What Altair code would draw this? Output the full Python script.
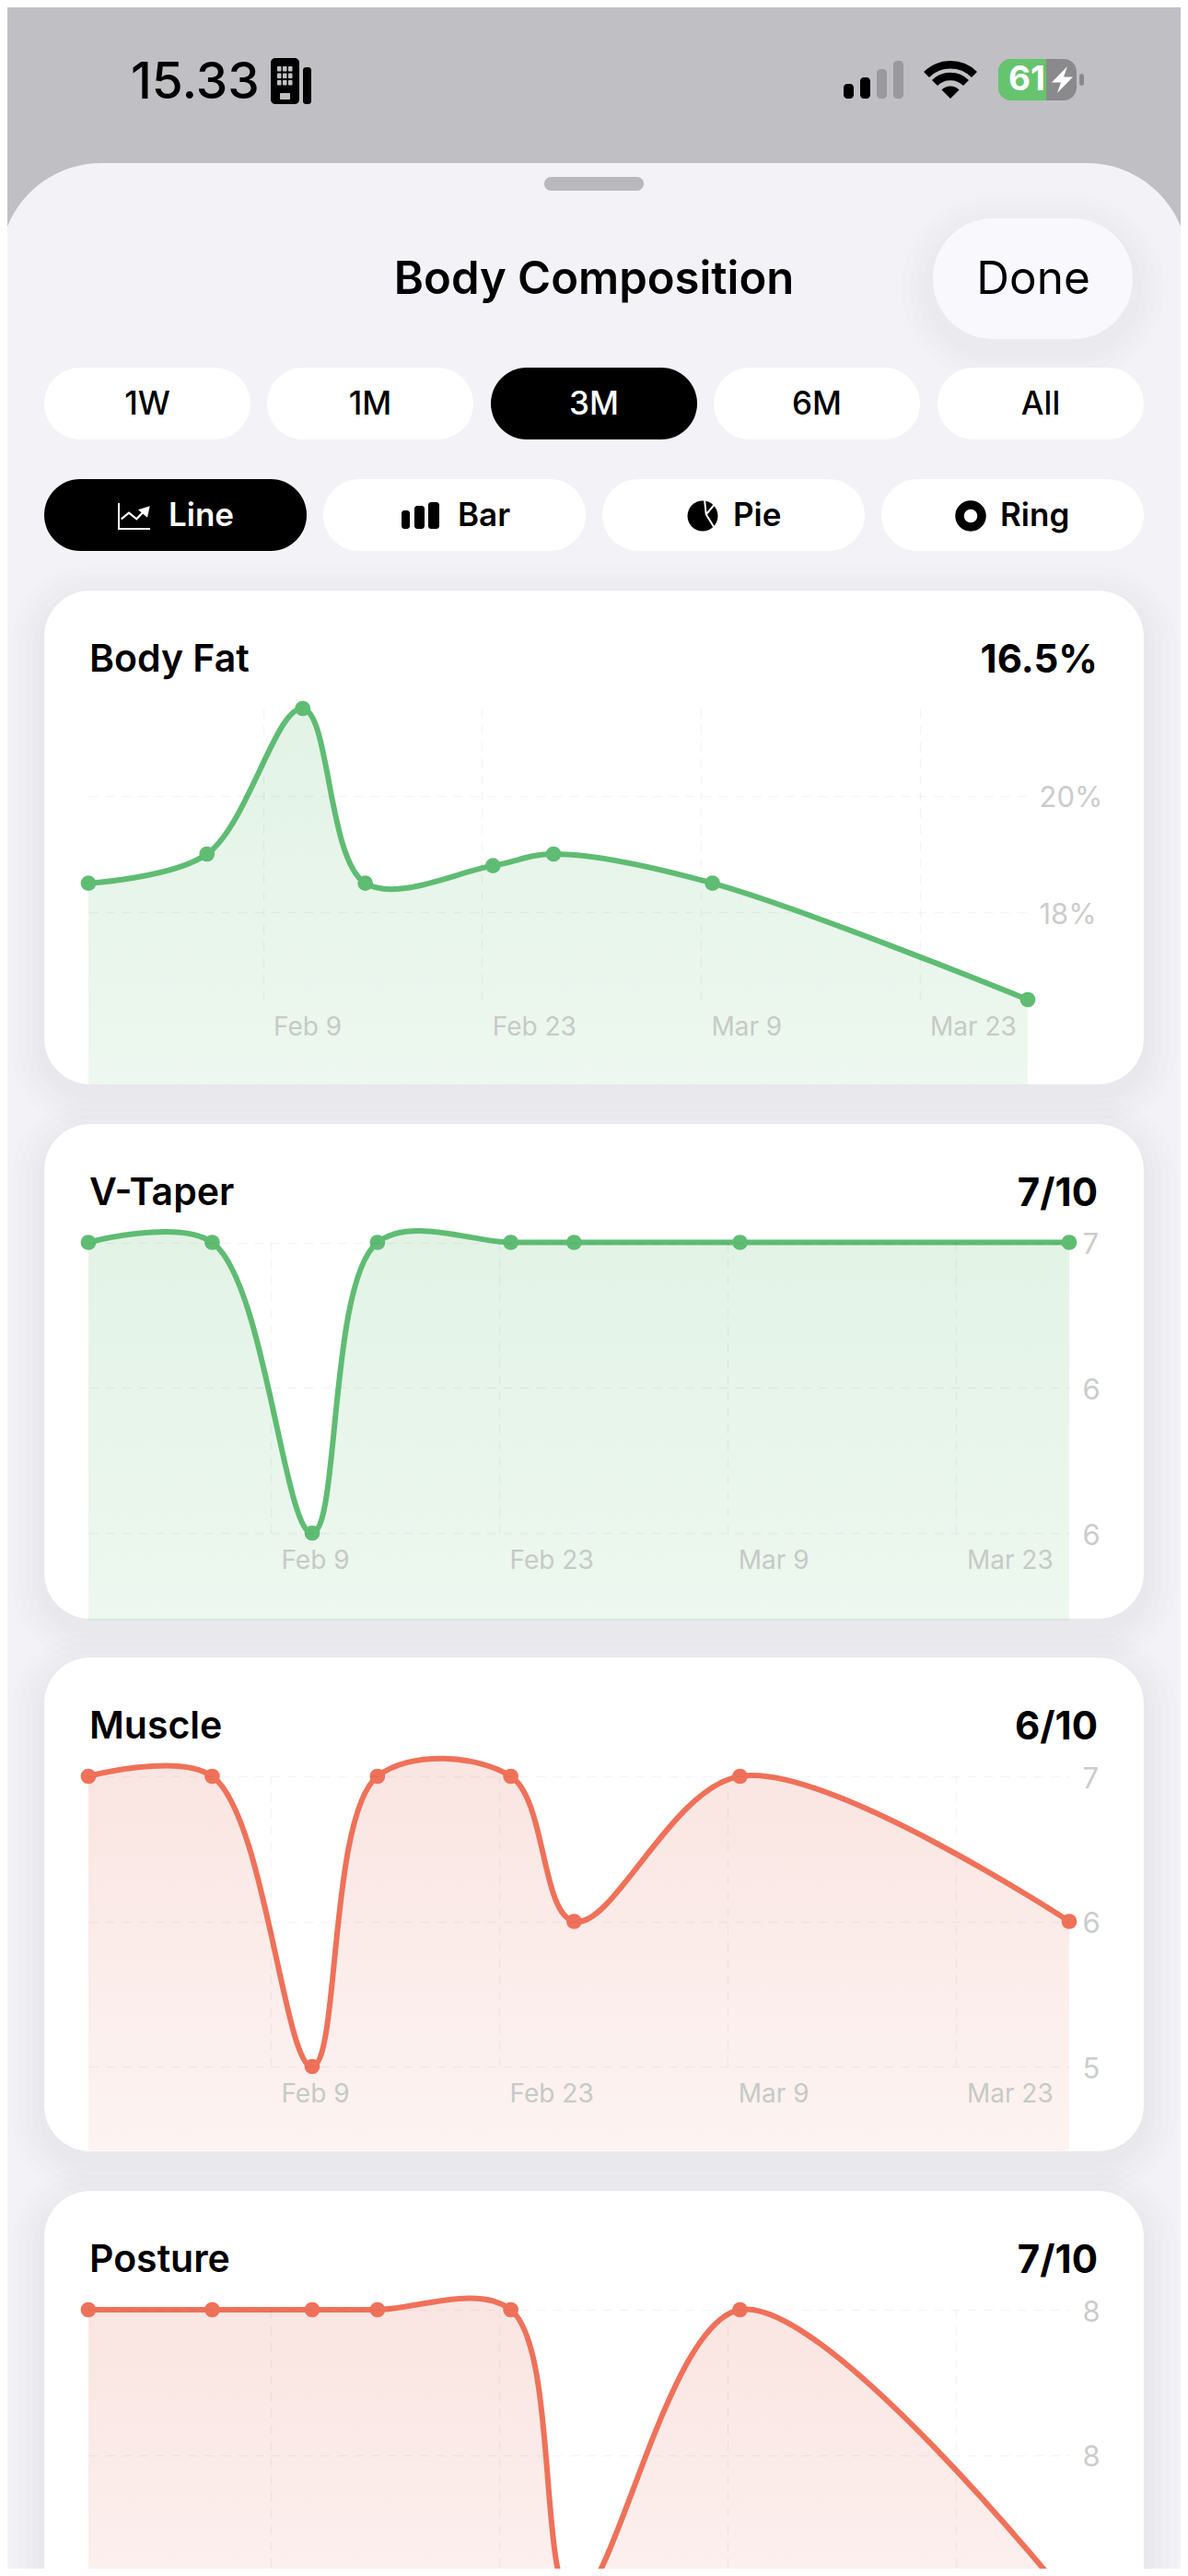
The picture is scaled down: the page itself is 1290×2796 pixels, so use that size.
import altair as alt
import pandas as pd

FONT = "Inter"
OFF = 8  # the page margin, everything below is measured on the screenshot

dates = ["2025-01-28T20:00:00", "2025-02-05T10:00:00", "2025-02-11T13:00:00", "2025-02-15T13:00:00",
         "2025-02-23T17:00:00", "2025-02-27T14:00:00", "2025-03-09T18:00:00", "2025-03-29T22:00:00"]
body_fat = [18.5, 19, 21.5, 18.5, 18.8, 19, 18.5, 16.5]
v_taper = [7, 7, 6, 7, 7, 7, 7, 7]
muscle = [7, 7, 5, 7, 7, 6, 7, 6]
posture = [8, 8, 8, 8, 8, 7, 8, 7]

tick_days = [(2, 9), (2, 23), (3, 9), (3, 23)]
range_labels = ["1W", "1M", "3M", "6M", "All"]
range_left = [48, 290, 533, 775, 1018]
type_labels = ["Line", "Bar", "Pie", "Ring"]
type_left = [48, 351, 654, 957]
type_text_left = [183, 497, 796, 1086]

GREEN = "#5fbc73"
RED = "#ef7159"
GREEN_AREA = ["rgba(95,188,115,0.18)", "rgba(95,188,115,0.11)"]
RED_AREA = ["rgba(225,110,90,0.18)", "rgba(225,110,90,0.08)"]
GRID = "rgba(0,0,0,0.045)"

ONE = alt.Data(values=[{"a": 1}])
HALF_EVEN = ("datum.value % 1 == 0.5 ? (floor(datum.value) % 2 == 0 ? floor(datum.value) : ceil(datum.value))"
             " : round(datum.value)")


def box(x0, y0, x1, y1, fill, r=0, opacity=1, **kw):
    return alt.Chart(ONE).mark_rect(fill=fill, cornerRadius=r, opacity=opacity, **kw).encode(
        x=alt.value(x0 - OFF), x2=alt.value(x1 - OFF), y=alt.value(y0 - OFF), y2=alt.value(y1 - OFF))


def label(x, y, text, size, weight=400, color="#000000", align="left"):
    return alt.Chart(ONE).mark_text(text=text, font=FONT, fontSize=size, fontWeight=weight, color=color,
                                    align=align, baseline="middle").encode(
        x=alt.value(x - OFF), y=alt.value(y - OFF))


def glyph(x, y, path, color="#000000", width=None):
    # size=4 makes one path unit one pixel
    if width:
        mark = alt.Chart(ONE).mark_point(shape=path, size=4, filled=False, stroke=color, strokeWidth=width, opacity=1)
    else:
        mark = alt.Chart(ONE).mark_point(shape=path, size=4, filled=True, fill=color, opacity=1)
    return mark.encode(x=alt.value(x - OFF), y=alt.value(y - OFF))


def shadow(x0, y0, x1, y1, r, spreads, opacity, dy=10):
    return [box(x0 - s, y0 - s + dy, x1 + s, y1 + s + dy, "#000000", r + s, opacity) for s in spreads]


def panel(values, domain, floor, ticks, color, area, x_end, y_bottom, y_top, date_y, value_x, suffix="", dates_shown=True):
    df = pd.DataFrame({"date": dates, "value": values, "floor": [floor] * len(values)})
    x = alt.X("date:T",
              scale=alt.Scale(domain=[dates[0], dates[-1]], range=[96 - OFF, x_end - OFF]),
              axis=alt.Axis(orient="top", offset=-(date_y + 1 - OFF), title=None, domain=False, ticks=False, zindex=1,
                            values=[alt.DateTime(year=2025, month=m, date=d) for m, d in tick_days],
                            labels=dates_shown, format="%b %-d", labelAlign="left", labelBaseline="middle",
                            labelPadding=0, labelOffset=11, labelFont=FONT, labelFontSize=28, labelColor="#c6cac7",
                            labelOverlap=False, labelFlush=False, labelBound=False,
                            grid=True, gridColor=GRID, gridWidth=1.5, gridDash=[10, 8]))
    y = alt.Y("value:Q",
              scale=alt.Scale(domain=domain, range=[y_bottom - OFF, y_top - OFF], zero=False, nice=False),
              axis=alt.Axis(orient="left", offset=-(value_x - OFF), title=None, domain=False, ticks=False, zindex=1,
                            values=ticks, labelExpr=f"({HALF_EVEN}) + '{suffix}'", labelAlign="left",
                            labelBaseline="middle", labelPadding=0, labelOffset=3, labelFont=FONT, labelFontSize=31,
                            labelColor="#cccccc", labelOverlap=False, labelFlush=False, labelBound=False,
                            grid=True, gridColor=GRID, gridWidth=1.5, gridDash=[10, 8]))
    fill = alt.LinearGradient(gradient="linear", x1=0, x2=0, y1=0, y2=1,
                              stops=[alt.GradientStop(offset=0, color=area[0]),
                                     alt.GradientStop(offset=1, color=area[1])])
    base = alt.Chart(df)
    shade = base.mark_area(interpolate="catmull-rom", fill=fill, opacity=1).encode(x=x, y=y, y2="floor:Q")
    line = base.mark_line(interpolate="catmull-rom", color=color, strokeWidth=6).encode(x=x, y=y)
    dots = base.mark_circle(size=280, color=color, opacity=1).encode(x=x, y=y)
    return alt.layer(shade, line, dots)


layers = []

# sheet behind the cards
layers.append(box(0, 177, 1290, 2900, "#f2f2f7", 110))
layers.append(box(591, 192, 699, 207, "#b8b8bd", 7.5))

# status bar
layers.append(label(142, 90, "15.33", 55, 500))
layers.append(box(294, 63, 325, 113, "#000000", 5))
layers.append(box(329, 73, 338, 113, "#000000", 3))
for row in range(3):
    for col in range(3):
        wx = 301 + col * 6
        wy = 72 + row * 7.5
        layers.append(box(wx, wy, wx + 4.5, wy + 5.5, "#c0bfc4", 1))
layers.append(box(304, 101, 315, 108, "#c0bfc4", 1))
bar_left = [916, 934, 952, 970]
bar_top = [91, 84, 75, 66]
bar_fill = ["#000000", "#000000", "#9a9a9c", "#9a9a9c"]
for bx, bt, bf in zip(bar_left, bar_top, bar_fill):
    layers.append(box(bx, bt, bx + 11, 107, bf, 4))
layers.append(glyph(1032, 107, "M0,0 L-9.5,-9.5 A13.5,13.5 0 0 1 9.5,-9.5 Z"))
layers.append(glyph(1032, 107, "M-17,-17 A24,24 0 0 1 17,-17", width=8.5))
layers.append(glyph(1032, 107, "M-26,-26 A37,37 0 0 1 26,-26", width=8.5))
layers.append(box(1084, 64, 1169, 109, "#8a8a8c", 14))
layers.append(box(1084, 64, 1150, 109, "#66c46f", 14))
layers.append(box(1125, 64, 1136, 109, "#66c46f"))
layers.append(box(1136, 64, 1150, 109, "#8a8a8c"))
layers.append(box(1172, 80, 1177, 93, "#8a8a8c", 2.5))
layers.append(label(1115, 87, "61", 37, 700, "#ffffff", "center"))
layers.append(glyph(1153, 86.5, "M6,-14.5 L-11,3 L-1,3 L-5,14.5 L12,-3 L2,-3 Z", "#ffffff"))

# header
layers.extend(shadow(1013, 237, 1230, 368, 65, [34, 26, 18, 10], 0.006))
layers.append(box(1013, 237, 1230, 368, "#f9f9fd", 65))
layers.append(label(645, 304, "Body Composition", 49, 600, align="center"))
layers.append(label(1122, 304, "Done", 49.5, 400, align="center"))

# period and chart type pills
for text, left in zip(range_labels, range_left):
    active = text == "3M"
    layers.append(box(left, 399, left + 224, 477, "#000000" if active else "#ffffff", 39))
    layers.append(label(left + 112, 439, text, 35, 500, "#ffffff" if active else "#000000", "center"))
for i, (text, left, tx) in enumerate(zip(type_labels, type_left, type_text_left)):
    active = i == 0
    layers.append(box(left, 520, left + 285, 598, "#000000" if active else "#ffffff", 39))
    layers.append(label(tx, 560, text, 35, 600, "#ffffff" if active else "#000000"))
layers.append(glyph(146, 560, "M-17,-14 L-17,14 L17,14", "#ffffff", 2))
layers.append(glyph(146, 560, "M-14.3,3.3 L-6,-3.3 L2.3,3.3 L12,-6.7", "#ffffff", 2.2))
layers.append(glyph(146, 560, "M4,-6.7 L16.7,-10.7 L14,1.7 Z", "#ffffff"))
layers.append(box(436, 554, 445, 574, "#000000", 3))
layers.append(box(450, 549, 461, 574, "#000000", 3))
layers.append(box(465, 545, 477, 574, "#000000", 3))
layers.append(glyph(763, 560, "M0,-16.5 A16.5,16.5 0 1 1 0,16.5 A16.5,16.5 0 1 1 0,-16.5 Z"))
layers.append(glyph(763, 560, "M3.7,-1.7 L15,-15 M3.7,-1.7 L12,11.7 M3.7,-1.7 L2,-18.3", "#ffffff", 2))
layers.append(glyph(1054, 560, "M0,-12 A12,12 0 1 1 0,12 A12,12 0 1 1 0,-12 Z", width=9.5))

# cards
card_tops = [641, 1220, 1799, 2378]
card_bottoms = [1177, 1757, 2335, 2914]
card_titles = ["Body Fat", "V-Taper", "Muscle", "Posture"]
card_values = ["16.5%", "7/10", "6/10", "7/10"]
for top, bottom in zip(card_tops, card_bottoms):
    layers.extend(shadow(48, top, 1242, bottom, 50, [36, 28, 20, 12, 6], 0.007))
for top, bottom, title, value in zip(card_tops, card_bottoms, card_titles, card_values):
    layers.append(box(48, top, 1242, bottom, "#ffffff", 50))
    layers.append(label(97, top + 76, title, 41, 600))
    layers.append(label(1192, top + 76, value, 42, 700, align="right"))

# floor is the value where each filled area meets the bottom edge of its card
layers.append(panel(body_fat, [16.5, 21.5], 15.04, [18, 20], GREEN, GREEN_AREA, 1116, 1085, 769, 1114, 1128, "%"))
layers.append(panel(v_taper, [6, 7], 5.7, [6, 6.5, 7], GREEN, GREEN_AREA, 1161, 1664, 1348.5, 1693, 1175))
layers.append(panel(muscle, [5, 7], 4.42, [5, 6, 7], RED, RED_AREA, 1161, 2243, 1928, 2272, 1175))
layers.append(panel(posture, [7, 8], 6.7, [7.5, 8], RED, RED_AREA, 1161, 2822, 2507, 2851, 1175, dates_shown=False))

chart = alt.layer(*layers).resolve_scale(x="independent", y="independent").properties(
    width=1274,
    height=2780,
    padding=0,
    background="#c0bfc4",
    autosize=alt.AutoSizeParams(type="none"),
).configure_view(stroke=None)

chart.save("out.html", embed_options={"renderer": "svg", "actions": False})
